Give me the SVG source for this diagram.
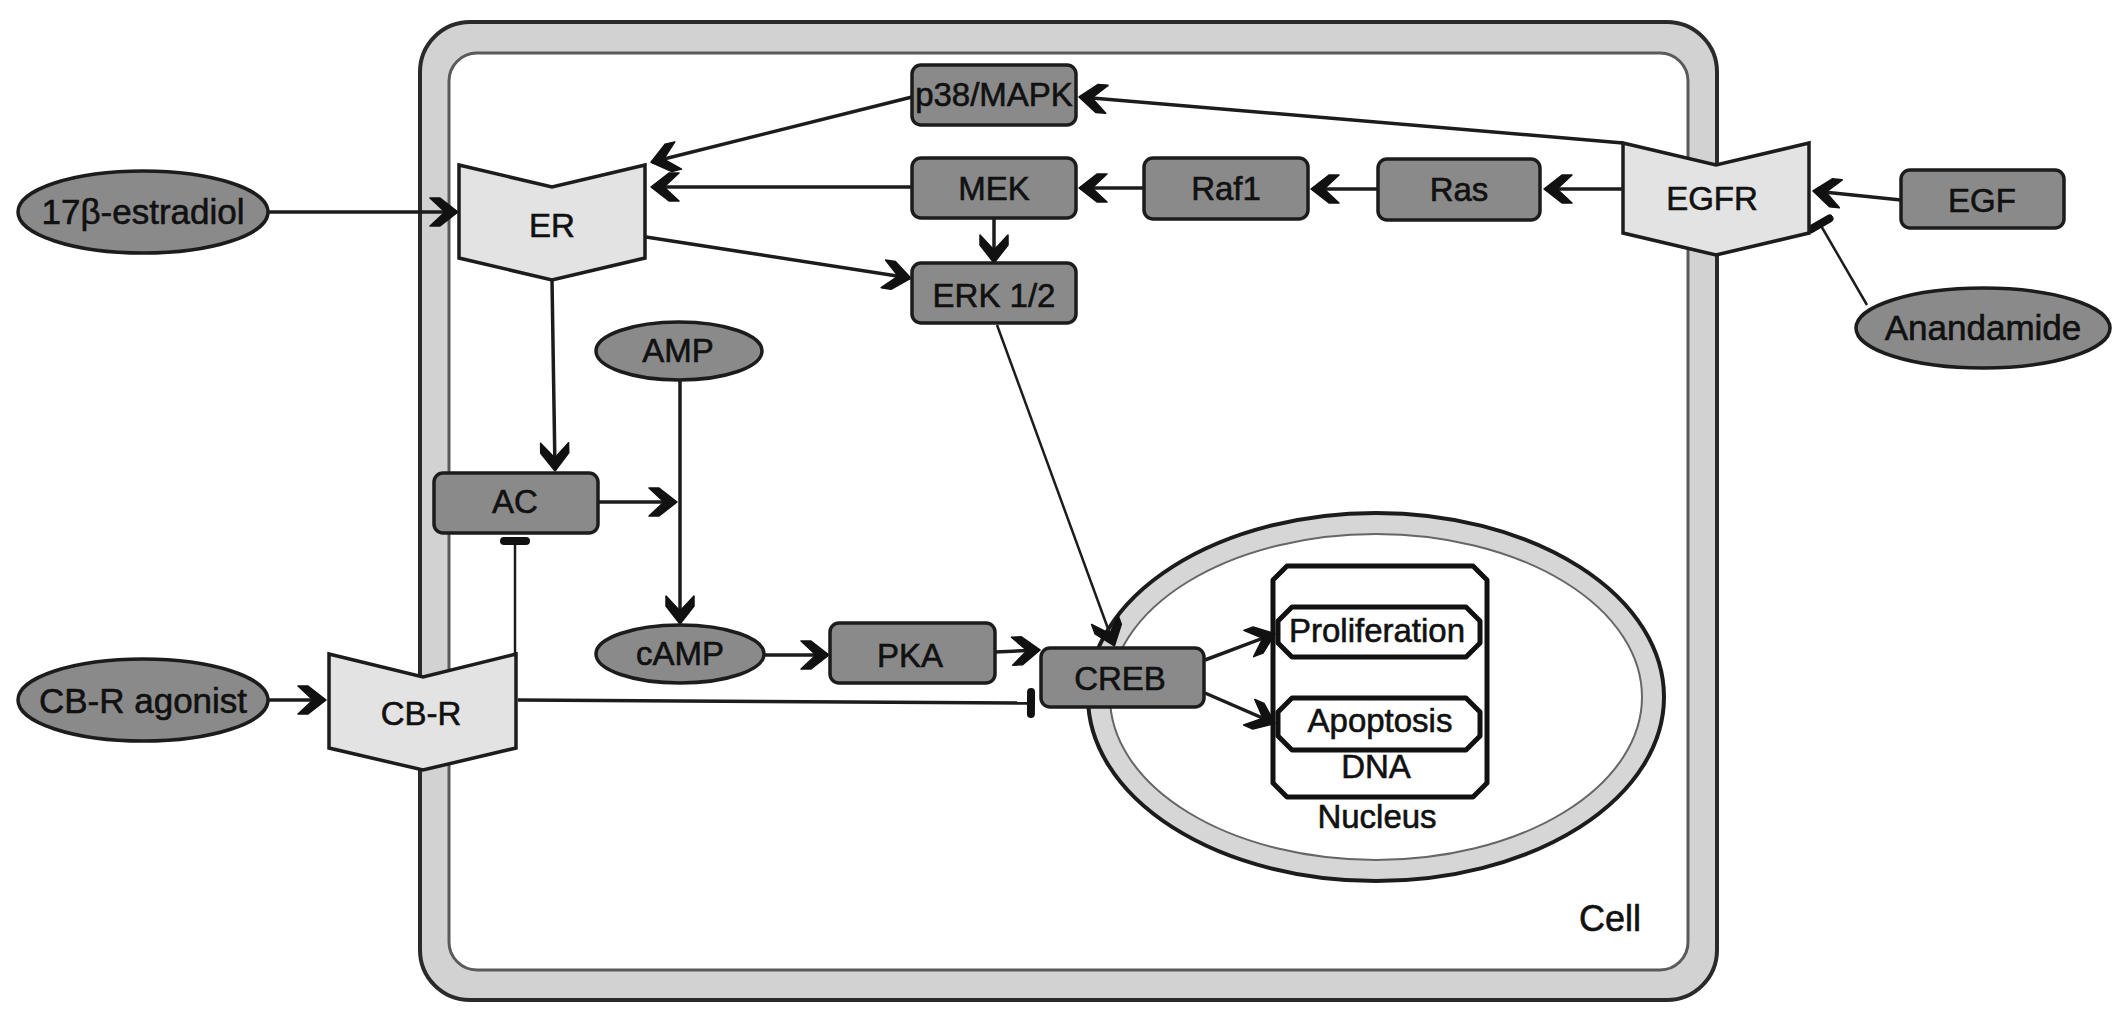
<svg xmlns="http://www.w3.org/2000/svg" width="2126" height="1022" viewBox="0 0 2126 1022">
<style>
.t{font-family:"Liberation Sans",Arial,sans-serif;font-size:33px;fill:#111;stroke:#111;stroke-width:0.6;text-anchor:middle}
.e{font-size:35px}
.box{fill:#8a8a8a;stroke:#1c1c1c;stroke-width:3.5}
.rec{fill:#e3e3e3;stroke:#1c1c1c;stroke-width:3.5;stroke-linejoin:miter}
.ln{fill:none;stroke:#1c1c1c;stroke-width:3.5}
.thin{fill:none;stroke:#1c1c1c;stroke-width:2.5}
.a{marker-end:url(#arr)}
.i{marker-end:url(#bar)}
.dna{fill:#fff;stroke:#111;stroke-width:5;stroke-linejoin:round}
</style>
<defs>
<marker id="arr" viewBox="0 0 30 32" refX="28" refY="16" markerWidth="30" markerHeight="32" markerUnits="userSpaceOnUse" orient="auto">
<path d="M1,2 L11,2 L29,16 L11,30 L1,30 L16,16 Z" fill="#111" stroke="#111" stroke-width="1.5" stroke-linejoin="round"/>
</marker>
<marker id="bar" viewBox="-6 -15 12 30" refX="0" refY="0" markerWidth="12" markerHeight="30" markerUnits="userSpaceOnUse" orient="auto">
<path d="M0,-11 L0,11" stroke="#111" stroke-width="8" stroke-linecap="round"/>
</marker>
</defs>
<rect width="2126" height="1022" fill="#fff"/>
<g id="cell">
<rect x="420" y="22" width="1297" height="978" rx="50" fill="#d2d2d2" stroke="#2a2a2a" stroke-width="4"/>
<rect x="449" y="53" width="1239" height="917" rx="28" fill="#fff" stroke="#5a5a5a" stroke-width="3"/>
<text class="t" x="1610" y="931" style="font-size:36px">Cell</text>
</g>
<g id="nucleus">
<ellipse cx="1376" cy="697" rx="288" ry="184" fill="#d6d6d6" stroke="#1c1c1c" stroke-width="4"/>
<ellipse cx="1376" cy="697" rx="266" ry="163" fill="#fff" stroke="#666" stroke-width="2"/>
<text class="t" x="1377" y="828">Nucleus</text>
</g>
<g id="dna">
<polygon class="dna" points="1287,566 1473,566 1487,580 1487,783 1473,797 1287,797 1273,783 1273,580"/>
<text class="t" x="1376" y="778">DNA</text>
</g>
<g id="proliferation">
<polygon class="dna" points="1292,607 1466,607 1480,621 1480,643 1466,657 1292,657 1278,643 1278,621"/>
<text class="t" x="1377" y="642">Proliferation</text>
</g>
<g id="apoptosis">
<polygon class="dna" points="1292,698 1466,698 1480,712 1480,736 1466,750 1292,750 1278,736 1278,712"/>
<text class="t" x="1380" y="732">Apoptosis</text>
</g>
<g id="connectors">
<line class="ln a" x1="268" y1="212" x2="457" y2="212"/>
<line class="ln a" x1="912" y1="97" x2="652" y2="162"/>
<line class="ln a" x1="912" y1="187" x2="652" y2="187"/>
<line class="ln a" x1="646" y1="237" x2="910" y2="278"/>
<line class="ln a" x1="994" y1="218" x2="994" y2="262"/>
<line class="ln a" x1="1144" y1="188" x2="1080" y2="188"/>
<line class="ln a" x1="1378" y1="189" x2="1312" y2="189"/>
<line class="ln a" x1="1623" y1="189" x2="1545" y2="189"/>
<line class="ln a" x1="1623" y1="143" x2="1080" y2="97"/>
<line class="ln a" x1="1901" y1="200" x2="1814" y2="191"/>
<line class="thin i" x1="1867" y1="305" x2="1820" y2="224"/>
<line class="ln a" x1="552" y1="280" x2="555" y2="470"/>
<line class="ln a" x1="598" y1="502" x2="676" y2="502"/>
<line class="ln a" x1="680" y1="380" x2="680" y2="623"/>
<line class="ln a" x1="764" y1="655" x2="828" y2="655"/>
<line class="ln a" x1="995" y1="652" x2="1039" y2="650"/>
<line class="thin a" x1="997" y1="325" x2="1114" y2="645"/>
<line class="ln a" x1="1205" y1="660" x2="1274" y2="634"/>
<line class="ln a" x1="1205" y1="693" x2="1274" y2="723"/>
<line class="ln a" x1="268" y1="700" x2="325" y2="700"/>
<line class="thin i" x1="515" y1="654" x2="515" y2="541"/>
<line class="ln i" x1="518" y1="700" x2="1031" y2="703"/>
</g>
<g id="estradiol">
<ellipse class="box" cx="143" cy="212" rx="125" ry="41"/>
<text class="t e" x="143" y="224">17β-estradiol</text>
</g>
<g id="cbr-agonist">
<ellipse class="box" cx="143" cy="700" rx="125" ry="41"/>
<text class="t e" x="143" y="713">CB-R agonist</text>
</g>
<g id="er">
<polygon class="rec" points="459,165 552,187 645,165 645,258 552,280 459,258"/>
<text class="t" x="552" y="237">ER</text>
</g>
<g id="cbr">
<polygon class="rec" points="329,654 423,677 516,654 516,748 423,770 329,748"/>
<text class="t" x="421" y="725">CB-R</text>
</g>
<g id="egfr">
<polygon class="rec" points="1623,143 1716,165 1809,143 1809,233 1716,255 1623,233"/>
<text class="t" x="1712" y="210">EGFR</text>
</g>
<g id="p38">
<rect class="box" x="912" y="65" width="164" height="60" rx="9"/>
<text class="t" x="994" y="106">p38/MAPK</text>
</g>
<g id="mek">
<rect class="box" x="912" y="158" width="164" height="60" rx="9"/>
<text class="t" x="994" y="200">MEK</text>
</g>
<g id="raf1">
<rect class="box" x="1144" y="158" width="164" height="61" rx="9"/>
<text class="t" x="1226" y="200">Raf1</text>
</g>
<g id="ras">
<rect class="box" x="1378" y="159" width="162" height="61" rx="9"/>
<text class="t" x="1459" y="201">Ras</text>
</g>
<g id="egf">
<rect class="box" x="1901" y="170" width="163" height="58" rx="9"/>
<text class="t" x="1982" y="212">EGF</text>
</g>
<g id="anandamide">
<ellipse class="box" cx="1983" cy="328" rx="127" ry="40"/>
<text class="t e" x="1983" y="340">Anandamide</text>
</g>
<g id="erk">
<rect class="box" x="912" y="263" width="164" height="60" rx="9"/>
<text class="t" x="994" y="307">ERK 1/2</text>
</g>
<g id="amp">
<ellipse class="box" cx="679" cy="351" rx="83" ry="29"/>
<text class="t" x="678" y="362">AMP</text>
</g>
<g id="ac">
<rect class="box" x="434" y="473" width="164" height="60" rx="9"/>
<text class="t" x="515" y="513">AC</text>
</g>
<g id="camp">
<ellipse class="box" cx="680" cy="654" rx="84" ry="29"/>
<text class="t" x="680" y="665">cAMP</text>
</g>
<g id="pka">
<rect class="box" x="830" y="623" width="165" height="60" rx="9"/>
<text class="t" x="910" y="667">PKA</text>
</g>
<g id="creb">
<rect class="box" x="1041" y="648" width="163" height="59" rx="9"/>
<text class="t" x="1120" y="690">CREB</text>
</g>
</svg>
